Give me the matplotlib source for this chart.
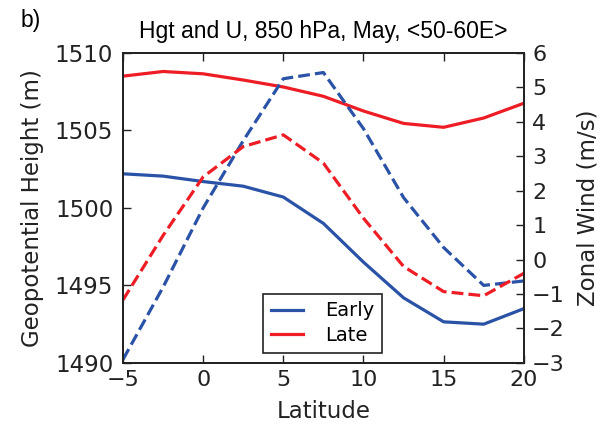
import matplotlib
matplotlib.use("Agg")
import matplotlib.pyplot as plt

lat = [-5, -2.5, 0, 2.5, 5, 7.5, 10, 12.5, 15, 17.5, 20]
hgt_early = [1502.2, 1502.05, 1501.7, 1501.4, 1500.7, 1499.0, 1496.5, 1494.2, 1492.65, 1492.5, 1493.5]
hgt_late = [1508.5, 1508.8, 1508.65, 1508.25, 1507.8, 1507.2, 1506.25, 1505.45, 1505.2, 1505.8, 1506.75]
u_early = [-2.9, -0.8, 1.5, 3.45, 5.25, 5.43, 3.8, 1.8, 0.35, -0.75, -0.62]
u_late = [-1.17, 0.7, 2.4, 3.28, 3.62, 2.8, 1.2, -0.2, -0.93, -1.05, -0.4]

blue = "#2a52a6"
red = "#ee1d25"
ink = "#222222"

fig = plt.figure(figsize=(6.0, 4.3), dpi=100)
ax = fig.add_axes([0.205, 0.156, 0.668, 0.721])
ax2 = ax.twinx()

l1, = ax.plot(lat, hgt_early, color=blue, lw=2.3, label="Early")
l2, = ax.plot(lat, hgt_late, color=red, lw=2.3, label="Late")
ax2.plot(lat, u_early, color=blue, lw=2.3, ls="--")
ax2.plot(lat, u_late, color=red, lw=2.3, ls="--")

ax.set_xlim(-5, 20)
ax.set_ylim(1490, 1510)
ax2.set_ylim(-3, 6)
ax.set_xticks([-5, 0, 5, 10, 15, 20])
ax.set_yticks([1490, 1495, 1500, 1505, 1510])
ax2.set_yticks(range(-3, 7))

for a in (ax, ax2):
    for s in a.spines.values():
        s.set_linewidth(1.3)
        s.set_color(ink)
ax.tick_params(axis="x", direction="in", length=6, width=1, labelsize=16,
               top=True, colors=ink, pad=5)
ax.tick_params(axis="y", direction="in", length=6, width=1, labelsize=16.5,
               colors=ink, pad=7)
ax2.tick_params(axis="y", direction="in", length=6, width=1, labelsize=16,
                colors=ink, pad=6)

ax.set_xlabel("Latitude", fontsize=16.5, color=ink)
ax.set_ylabel("Geopotential Height (m)", fontsize=16.5, color=ink)
ax2.set_ylabel("Zonal Wind (m/s)", fontsize=16.5, color=ink)
ax.yaxis.set_label_coords(-0.197, 0.5)
ax2.yaxis.set_label_coords(1.132, 0.5)
ax.xaxis.set_label_coords(0.5, -0.119)

ax.set_title("Hgt and U, 850 hPa, May, <50-60E>", fontsize=16.5,
             family="Liberation Sans", pad=11)
fig.text(0.034, 0.937, "b)", fontsize=16.5, family="Liberation Sans", va="baseline")

leg = ax.legend(handles=[l1, l2], loc="lower left", bbox_to_anchor=(0.349, 0.032),
                fontsize=14, fancybox=False, framealpha=1, edgecolor=ink,
                handlelength=1.65, borderpad=0.4, labelspacing=0.3,
                handletextpad=1.15, borderaxespad=0)
leg.get_frame().set_linewidth(1.2)

fig.savefig("out.png", dpi=100)
